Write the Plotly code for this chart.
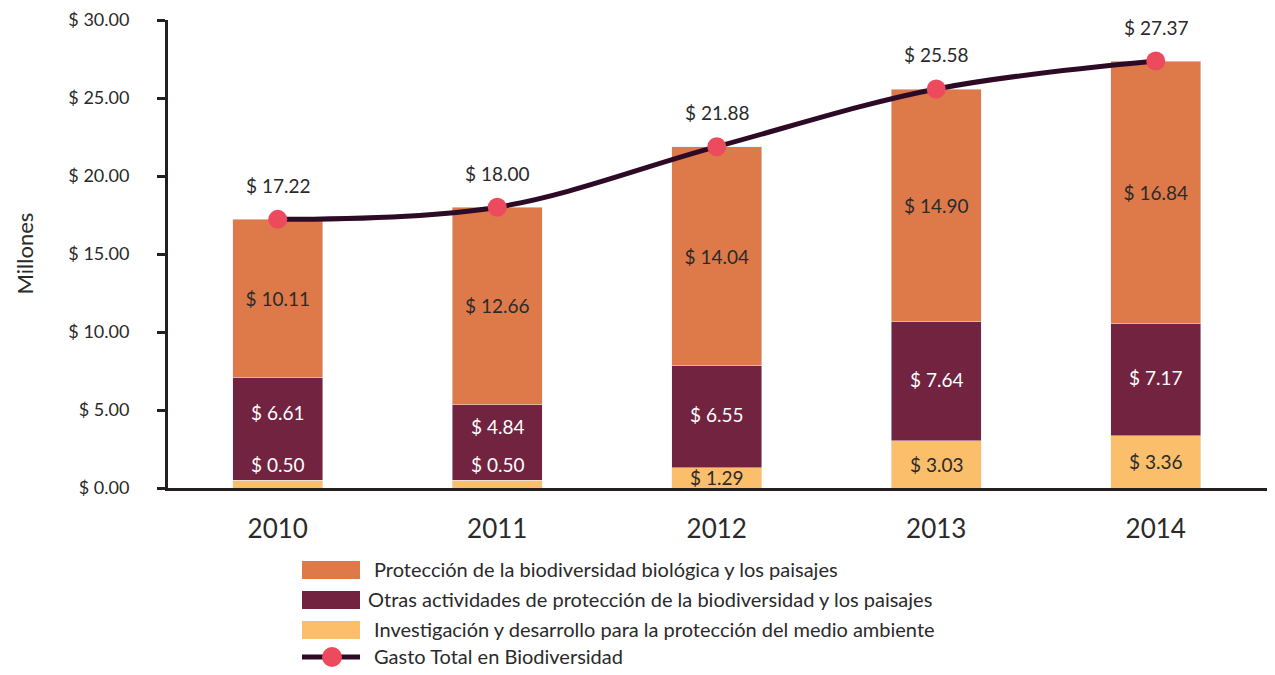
import plotly.graph_objects as go

years = ["2010", "2011", "2012", "2013", "2014"]
investigacion = [0.50, 0.50, 1.29, 3.03, 3.36]
otras = [6.61, 4.84, 6.55, 7.64, 7.17]
proteccion = [10.11, 12.66, 14.04, 14.90, 16.84]
total = [17.22, 18.00, 21.88, 25.58, 27.37]

names = [
    "Protección de la biodiversidad biológica y los paisajes",
    "Otras actividades de protección de la biodiversidad y los paisajes",
    "Investigación y desarrollo para la protección del medio ambiente",
    "Gasto Total en Biodiversidad",
]

c_prot = "#de7a4a"
c_otras = "#72233f"
c_inv = "#fbbe6a"
c_line = "#2d0b27"
c_mark = "#ee4a5e"
txt = "#2a2a2a"
FONT = "Lato, 'Open Sans', sans-serif"

# the page adds an 8px body margin, so the figure is a bit smaller
OFF = 8
W, H = 1275 - 2 * OFF, 675 - 2 * OFF
# plot box in figure pixels
L, T, B = 168 - OFF, 20 - OFF, 488 - OFF


def px(p):
    # reference pixel -> paper x
    return (p - OFF - L) / (W - L)


def py_(p):
    return (B - (p - OFF)) / (B - T)


fig = go.Figure()
fig.add_trace(go.Bar(x=years, y=investigacion, marker_color=c_inv, name=names[2]))
fig.add_trace(go.Bar(x=years, y=otras, marker_color=c_otras, name=names[1]))
fig.add_trace(go.Bar(
    x=years, y=proteccion, marker_color=c_prot, name=names[0],
    text=["$ %.2f" % v for v in proteccion], textposition="inside",
    insidetextanchor="middle", textangle=0,
    textfont=dict(color=txt, size=19, family=FONT),
))
fig.add_trace(go.Scatter(
    x=years, y=total, mode="lines+markers", name=names[3],
    line=dict(color=c_line, width=5, shape="spline", smoothing=1),
    marker=dict(color=c_mark, size=19),
))

annotations = []
for i, v in enumerate(investigacion):
    small = v < 1
    annotations.append(dict(
        x=i, y=v if small else v / 2, yanchor="bottom" if small else "middle",
        yshift=2 if small else 0,
        text="$ %.2f" % v, showarrow=False,
        font=dict(size=19, family=FONT, color="white" if small else txt),
    ))
    # maroon label, pushed up a little when the yellow label sits inside it
    annotations.append(dict(
        x=i, y=v + otras[i] / 2, yshift=16 if small else 2,
        text="$ %.2f" % otras[i], showarrow=False,
        font=dict(size=19, family=FONT, color="white"),
    ))
for i, v in enumerate(total):
    annotations.append(dict(
        x=i, y=v, yshift=34, text="$ %.2f" % v, showarrow=False,
        font=dict(size=19, family=FONT, color=txt),
    ))

annotations.append(dict(
    xref="paper", yref="paper", x=px(8), y=py_(254), text="Millones",
    textangle=-90, showarrow=False, font=dict(size=22, family=FONT, color=txt),
))

# legend drawn by hand (wide swatches like the original)
shapes = []
leg_y = [570, 600, 630, 657]
leg_colors = [c_prot, c_otras, c_inv]
for yc, col in zip(leg_y[:3], leg_colors):
    shapes.append(dict(type="rect", xref="paper", yref="paper",
                       x0=px(302), x1=px(360), y0=py_(yc - 9), y1=py_(yc + 9),
                       fillcolor=col, line=dict(width=0)))
shapes.append(dict(type="line", xref="paper", yref="paper",
                   x0=px(302), x1=px(360), y0=py_(leg_y[3]), y1=py_(leg_y[3]),
                   line=dict(color=c_line, width=5)))
shapes.append(dict(type="circle", xref="paper", yref="paper",
                   x0=px(322), x1=px(342), y0=py_(leg_y[3] - 10), y1=py_(leg_y[3] + 10),
                   fillcolor=c_mark, line=dict(width=0)))
for i, (yc, nm) in enumerate(zip(leg_y, names)):
    annotations.append(dict(
        xref="paper", yref="paper", x=px(366 if i == 1 else 372), y=py_(yc - 1),
        xanchor="left", yanchor="middle", text=nm, showarrow=False,
        font=dict(size=20, family=FONT, color=txt),
    ))

fig.update_layout(
    barmode="stack",
    bargap=0.59,
    width=W, height=H,
    margin=dict(l=L, r=0, t=T, b=H - B),
    plot_bgcolor="white", paper_bgcolor="white",
    showlegend=False,
    font=dict(family=FONT, color=txt),
    annotations=annotations,
    shapes=shapes,
)
fig.update_xaxes(
    type="category", range=[-0.5, (W - L) / 219.5 - 0.5],
    showline=True, linecolor="#231f20", linewidth=3,
    ticks="", tickfont=dict(size=26, family=FONT, color=txt),
    ticklabelstandoff=16, showgrid=False,
)
fig.update_yaxes(
    range=[0, 30], dtick=5, tickformat=".2f", tickprefix="$ ",
    showline=True, linecolor="#231f20", linewidth=3,
    ticks="outside", ticklen=8, tickwidth=3, tickcolor="#231f20",
    tickfont=dict(size=18, family=FONT, color=txt),
    ticklabelstandoff=24, showgrid=False, zeroline=False,
)

fig.write_html("out.html")
